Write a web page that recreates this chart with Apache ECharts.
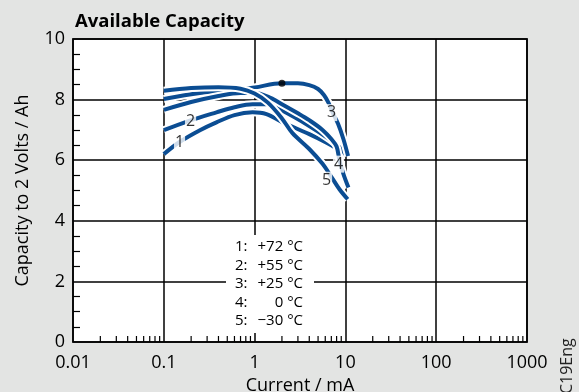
<!DOCTYPE html>
<html>
<head>
<meta charset="utf-8">
<script src="https://cdn.jsdelivr.net/npm/echarts@6/dist/echarts.min.js"></script>
<style>
html,body{margin:0;padding:0;background:#e3e4e3;}
#chart{width:579px;height:392px;}
</style>
</head>
<body>
<div id="chart"></div>
<script>
// ---- data ----
const xTickLabels = ['0.01', '0.1', '1', '10', '100', '1000'];
const yTickLabels = ['0', '2', '4', '6', '8', '10'];
const minorMultipliers = [2, 3, 4, 5, 6, 7, 8, 9];
const decades = [0.01, 0.1, 1, 10, 100];

const curve1X = [0.1, 0.149, 0.25, 0.38, 0.6, 0.95, 1.35, 2.03, 4.0, 6.2, 8.0, 9.2];
const curve1Y = [6.20, 6.60, 6.99, 7.25, 7.49, 7.58, 7.52, 7.25, 6.86, 6.58, 6.39, 6.25];

const curve2X = [0.1, 0.19, 0.38, 0.6, 0.95, 1.35, 2.03, 4.0, 6.7, 8.6, 10.2];
const curve2Y = [6.99, 7.30, 7.58, 7.75, 7.85, 7.85, 7.63, 7.13, 6.69, 6.43, 6.15];

const curve3X = [0.1, 0.25, 0.57, 1.0, 2.0, 3.0, 4.0, 5.0, 5.8, 6.5, 7.3, 8.3, 9.5, 10.7];
const curve3Y = [8.02, 8.22, 8.30, 8.40, 8.54, 8.54, 8.48, 8.35, 8.15, 7.90, 7.55, 7.20, 6.70, 6.14];

const curve4X = [0.1, 0.2, 0.4, 0.7, 1.0, 1.4, 2.0, 3.0, 4.0, 5.6, 7.0, 8.0, 8.6, 9.5, 10.8];
const curve4Y = [7.66, 7.92, 8.12, 8.22, 8.22, 8.10, 7.85, 7.55, 7.32, 7.00, 6.70, 6.45, 6.00, 5.55, 5.10];

const curve5X = [0.1, 0.2, 0.4, 0.7, 1.0, 1.4, 2.0, 2.6, 4.0, 5.6, 7.0, 8.6, 10.6];
const curve5Y = [8.29, 8.38, 8.41, 8.36, 8.20, 7.90, 7.38, 6.90, 6.37, 5.88, 5.45, 5.04, 4.71];

const curveLabelText = ['1', '2', '3', '4', '5'];
const curveLabelX = [0.149, 0.197, 7.05, 8.4, 6.2];
const curveLabelY = [6.60, 7.29, 7.57, 5.87, 5.34];

const markerX = [2.0];
const markerY = [8.54];

const legendKeys = ['1:', '2:', '3:', '4:', '5:'];
const legendTemps = ['+72 °C', '+55 °C', '+25 °C', '0 °C', '\u221230 °C'];

const titleText = 'Available Capacity';
const xAxisName = 'Current / mA';
const yAxisName = 'Capacity to 2 Volts / Ah';
const codeText = 'C19Eng';

// ---- build ----
const FONT = 'Open Sans';
const BLUE = '#0b4d93';
const curves = [
  [curve1X, curve1Y], [curve2X, curve2Y], [curve3X, curve3Y],
  [curve4X, curve4Y], [curve5X, curve5Y]
];
const pairs = (xs, ys) => xs.map((x, i) => [x, ys[i]]);

const series = [];
curves.forEach(([xs, ys], i) => {
  const data = pairs(xs, ys);
  series.push({
    type: 'line', data, symbol: 'none', smooth: 0.35, silent: true,
    z: 3 + i * 2,
    lineStyle: { color: '#ffffff', width: 8, cap: 'butt' }
  });
  series.push({
    type: 'line', data, symbol: 'none', smooth: 0.35, silent: true,
    z: 4 + i * 2,
    lineStyle: { color: BLUE, width: 4, cap: 'butt' }
  });
});

const minorTicks = [];
decades.forEach(d => minorMultipliers.forEach(m => minorTicks.push([d * m, 0])));

series.push({
  type: 'custom', data: minorTicks, z: 2, silent: true, clip: false,
  renderItem: (params, api) => {
    const p = api.coord([api.value(0), api.value(1)]);
    return { type: 'line', shape: { x1: p[0], y1: p[1], x2: p[0], y2: p[1] - 6 },
             style: { stroke: '#000', lineWidth: 1.2 } };
  }
});

series.push({
  type: 'scatter', data: pairs(markerX, markerY), symbolSize: 7, z: 20,
  itemStyle: { color: '#000' }, silent: true
});

series.push({
  type: 'scatter', z: 25, silent: true, symbolSize: 0,
  data: curveLabelX.map((x, i) => [x, curveLabelY[i], curveLabelText[i]]),
  label: {
    show: true, position: 'inside', formatter: p => p.value[2],
    fontFamily: FONT, fontSize: 16, color: '#000', backgroundColor: '#fff',
    padding: [0, 1], lineHeight: 17
  }
});

const legendGraphics = [
  { type: 'rect', shape: { x: 226, y: 235, width: 88, height: 98 },
    style: { fill: '#fff' }, z: 40 }
];
legendKeys.forEach((k, i) => {
  const y = 247 + i * 18.5;
  legendGraphics.push({ type: 'text', z: 41, x: 235, y,
    style: { text: k, font: '15px "Open Sans"', fill: '#000',
             align: 'left', verticalAlign: 'middle', textAlign: 'left', textVerticalAlign: 'middle' } });
  legendGraphics.push({ type: 'text', z: 41, x: 303, y,
    style: { text: legendTemps[i], font: '15px "Open Sans"', fill: '#000',
             align: 'right', verticalAlign: 'middle', textAlign: 'right', textVerticalAlign: 'middle' } });
});
legendGraphics.push({ type: 'text', z: 41, x: 567, y: 394, rotation: Math.PI / 2,
  style: { text: codeText, font: '16px "Open Sans"', fill: '#222',
           align: 'left', verticalAlign: 'middle', textAlign: 'left', textVerticalAlign: 'middle' } });

const chart = echarts.init(document.getElementById('chart'), null, { renderer: 'canvas' });
chart.setOption({
  backgroundColor: '#e3e4e3',
  animation: false,
  title: {
    text: titleText, left: 70, top: 7,
    textStyle: { fontFamily: FONT, fontSize: 18.5, fontWeight: 'bold', color: '#000' }
  },
  grid: {
    left: 73, top: 39, width: 454, height: 303,
    outerBoundsMode: 'none', containLabel: false,
    show: true, backgroundColor: '#fff', borderColor: '#333', borderWidth: 2
  },
  xAxis: {
    type: 'log', logBase: 10, min: 0.01, max: 1000,
    name: xAxisName, nameLocation: 'middle', nameGap: 31,
    nameTextStyle: { fontFamily: FONT, fontSize: 18, color: '#000' },
    axisLine: { show: false },
    axisTick: { show: false },
    axisLabel: {
      fontFamily: FONT, fontSize: 18, color: '#000', margin: 12,
      formatter: v => xTickLabels[Math.round(Math.log10(v)) + 2]
    },
    splitLine: { show: true, lineStyle: { color: '#000', width: 1.5 } }
  },
  yAxis: {
    type: 'value', min: 0, max: 10, interval: 2,
    name: yAxisName, nameLocation: 'middle', nameGap: 41,
    nameTextStyle: { fontFamily: FONT, fontSize: 18, color: '#000' },
    axisLine: { show: false },
    axisTick: { show: false, inside: true },
    minorTick: { show: true, splitNumber: 4, length: 7, lineStyle: { color: '#000', width: 1.2 } },
    axisLabel: {
      fontFamily: FONT, fontSize: 18, color: '#000', margin: 8,
      formatter: v => yTickLabels[Math.round(v / 2)]
    },
    splitLine: { show: true, lineStyle: { color: '#000', width: 1.5 } }
  },
  graphic: legendGraphics,
  series
});
</script>
</body>
</html>
